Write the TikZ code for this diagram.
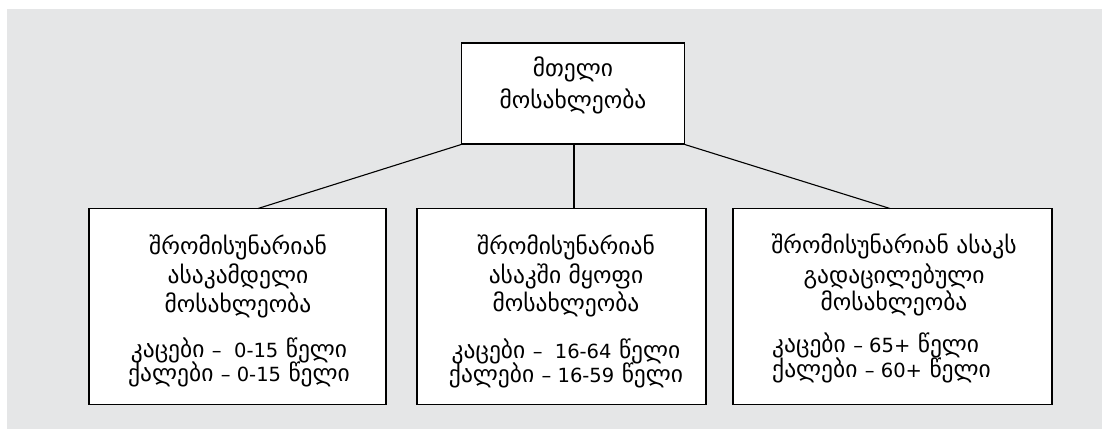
\documentclass[tikz,border=0pt]{standalone}
\usepackage{fontspec}
\setmainfont{DejaVu Sans}
\definecolor{bggray}{RGB}{229,230,231}
\newcommand\geosz{\fontsize{23.5}{28}\selectfont}
\newcommand\numsz{\fontsize{19.5}{23}\selectfont}
\begin{document}
\begin{tikzpicture}[x=1pt,y=-1pt,
  boxstyle/.style={draw=black,line width=1.2pt,fill=white,inner sep=0pt},
  txt/.style={font=\geosz,inner sep=0pt,anchor=center},
  link/.style={draw=black,line width=1.1pt}]
\useasboundingbox (0,0) rectangle (1102,429);
\fill[bggray] (7,9) rectangle (1102,429);
% boxes
\node[boxstyle,minimum width=223pt,minimum height=101pt] (top) at (573,93.5) {};
\node[boxstyle,minimum width=297pt,minimum height=196pt] (left) at (237.5,306.5) {};
\node[boxstyle,minimum width=289pt,minimum height=196pt] (mid) at (561.5,306.5) {};
\node[boxstyle,minimum width=319pt,minimum height=196pt] (right) at (892.5,306.5) {};
% connectors
\coordinate (lin) at (258,208.5);
\coordinate (min) at (574,208.5);
\coordinate (rin) at (890,208.5);
\draw[link] (top.south west) -- (lin);
\draw[link] (top.south -| min) -- (min);
\draw[link] (top.south east) -- (rin);
% top text
\node[txt] (t1) at (573,69) {მთელი};
\node[txt] (t2) at (573,101) {მოსახლეობა};
% left text
\node[txt] (l1) at (238,247) {შრომისუნარიან};
\node[txt] (l2) at (238,276) {ასაკამდელი};
\node[txt] (l3) at (238,305) {მოსახლეობა};
\node[txt] (l4) at (239,350) {კაცები {\numsz –\ \ 0-15} წელი};
\node[txt] (l5) at (239,374) {ქალები {\numsz – 0-15} წელი};
% middle text
\node[txt] (m1) at (566,247) {შრომისუნარიან};
\node[txt] (m2) at (566,276) {ასაკში მყოფი};
\node[txt] (m3) at (566,304) {მოსახლეობა};
\node[txt] (m4) at (566,351) {კაცები {\numsz –\ \ 16-64} წელი};
\node[txt] (m5) at (566,375) {ქალები {\numsz – 16-59} წელი};
% right text
\node[txt] (r1) at (894,246) {შრომისუნარიან ასაკს};
\node[txt] (r2) at (894,276) {გადაცილებული};
\node[txt] (r3) at (894,303) {მოსახლეობა};
\node[txt,anchor=west] (r4) at (772,345) {კაცები {\numsz – 65+} წელი};
\node[txt,anchor=west] (r5) at (772,370) {ქალები {\numsz – 60+} წელი};
\end{tikzpicture}
\end{document}
